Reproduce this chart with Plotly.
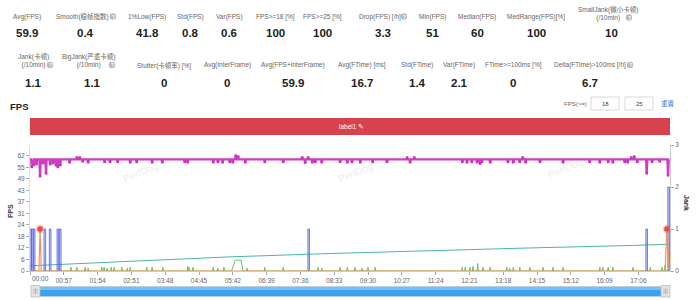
import plotly.graph_objects as go
import numpy as np

# ---------------- data ----------------
x_tick_labels = ["00:00", "00:57", "01:54", "02:51", "03:48", "04:45", "05:42", "06:39",
                 "07:36", "08:33", "09:30", "10:27", "11:24", "12:21", "13:18", "14:15",
                 "15:12", "16:09", "17:06"]
fps_tick_labels = ["0", "6", "12", "18", "24", "31", "37", "43", "49", "55", "62"]
jank_tick_labels = ["0", "1", "2", "3"]

duration_s = 1078
fps_base = 60
# times (s) where FPS leaves its 60 baseline, and the value reached
fps_event_t = [3, 6, 11, 17, 22, 27, 34, 39, 44, 47, 51, 67, 79, 84, 89, 98, 126, 135, 148, 169,
               180, 206, 223, 261, 266, 309, 317, 325, 337, 342, 347, 351, 363, 396, 427, 459,
               464, 469, 476, 481, 492, 523, 535, 543, 557, 578, 602, 636, 641, 648, 729, 737,
               745, 754, 759, 762, 776, 806, 815, 826, 831, 836, 860, 899, 944, 961, 975, 983,
               1003, 1008, 1014, 1019, 1024, 1040, 1049, 1062, 1076]
fps_event_v = [56, 57, 57.5, 51, 58, 52.5, 57.5, 58, 57, 56, 57, 58.5, 61, 61, 59, 58.5, 58.7,
               58.7, 58.7, 58.5, 58.7, 58.5, 58.5, 58.7, 58.5, 58.5, 58.7, 58.5, 58.7, 58.5, 62,
               61.5, 58.5, 58.7, 58.7, 61, 58.3, 61, 58.5, 58.7, 58.5, 58.7, 58.5, 58.7, 58.5,
               58.7, 58.7, 61, 58.5, 61, 58.7, 58.5, 58.7, 58.5, 57.8, 58.7, 58.5, 58.7, 58.5,
               58.7, 61, 58.5, 58.7, 58.5, 58.7, 58.5, 58.7, 58.5, 58.7, 58.5, 61, 61.5, 58.7,
               52.6, 58.7, 59, 51.5]

jank_t = [1, 4, 7, 25, 34, 47, 51, 470, 1040, 1077]
jank_v = [1, 1, 1, 1, 1, 1, 1, 1, 1, 2]

bigjank_t = [0, 15, 17, 19, 1071, 1074, 1078]
bigjank_v = [0, 0, 1, 0, 0, 1, 0]

inter_spike_t = [69, 79, 93, 98, 121, 125, 130, 137, 142, 155, 164, 169, 197, 206, 224, 266, 268,
                 275, 309, 317, 327, 366, 396, 427, 486, 492, 523, 535, 548, 560, 570, 582, 729,
                 734, 742, 747, 755, 764, 776, 804, 809, 815, 826, 843, 865, 882, 899, 961, 966,
                 975, 983, 1017, 1046, 1066, 1071]
inter_spike_v = [2, 2, 2, 1.5, 2, 2, 1.5, 2, 2, 2, 1.5, 2, 2, 2, 2, 2.5, 2, 2, 2, 1.5, 2, 1.5, 2,
                 2, 2, 1.5, 2, 2, 2, 1.5, 2, 2, 2, 2, 2, 2.5, 4, 2, 2, 2, 1.5, 2, 2, 2, 2, 2, 2,
                 2, 2, 2, 2, 2, 2, 2, 3]
inter_block_t = [340, 346, 356, 359]
inter_block_v = [0, 5.8, 5.8, 0]

trend_t = [0, 60, 169, 337, 506, 675, 843, 1012, 1078]
trend_v = [2.8, 3.7, 5.3, 7.6, 9.4, 11.0, 12.4, 13.7, 14.4]

row1_labels = ["Avg(FPS)", "Smooth(稳帧指数)", "1%Low(FPS)", "Std(FPS)", "Var(FPS)", "FPS>=18 [%]",
               "FPS>=25 [%]", "Drop(FPS) [/h]", "Min(FPS)", "Median(FPS)", "MedRange(FPS)[%]",
               "SmallJank(微小卡顿)<br>(/10min)"]
row1_values = ["59.9", "0.4", "41.8", "0.8", "0.6", "100", "100", "3.3", "51", "60", "100", "10"]
row2_labels = ["Jank(卡顿)<br>(/10min)", "BigJank(严重卡顿)<br>(/10min)", "Stutter(卡顿率) [%]",
               "Avg(InterFrame)", "Avg(FPS+InterFrame)", "Avg(FTime) [ms]", "Std(FTime)",
               "Var(FTime)", "FTime>=100ms [%]", "Delta(FTime)>100ms [/h]"]
row2_values = ["1.1", "1.1", "0", "0", "59.9", "16.7", "1.4", "2.1", "0", "6.7"]
fps_thresholds = ["18", "25"]

# ---------------- layout geometry ----------------
W, H = 700, 300
ML, MR, MT, MB = 30, 30, 145, 29
PW, PH = W - ML - MR, H - MT - MB
FONT = "Liberation Sans, Noto Sans CJK SC, sans-serif"


def px(x):
    return (x - ML) / PW


def py(y):
    return (H - MB - y) / PH


def to_sec(s):
    m, sec = s.split(":")
    return int(m) * 60 + int(sec)


x_tick_vals = [to_sec(s) for s in x_tick_labels]
x_max = (W - MR - ML) * x_tick_vals[1] / 33.8
fps_tick_vals = list(np.linspace(0, float(fps_tick_labels[-1]), len(fps_tick_labels)))
fps_top = float(fps_tick_labels[-1]) * 126 / 115.3

# FPS line built from baseline + events
fps_t, fps_v = [0], [fps_base]
for t, v in zip(fps_event_t, fps_event_v):
    fps_t += [t - 1, t, t + 1]
    fps_v += [fps_base, v, fps_base]
fps_t.append(duration_s)
fps_v.append(fps_base)

inter_t, inter_v = [0], [0]
blk_done = False
for t, v in zip(inter_spike_t, inter_spike_v):
    if not blk_done and t > inter_block_t[0]:
        inter_t += inter_block_t
        inter_v += inter_block_v
        blk_done = True
    inter_t += [t - 1, t, t + 1]
    inter_v += [0, v, 0]
inter_t.append(duration_s)
inter_v.append(0)

fig = go.Figure()

fig.add_trace(go.Scatter(x=trend_t, y=trend_v, mode="lines",
                         line=dict(color="#4bb5ab", width=1), yaxis="y", hoverinfo="skip"))
fig.add_trace(go.Scatter(x=inter_t, y=inter_v, mode="lines",
                         line=dict(color="#5cb85c", width=0.9), yaxis="y", hoverinfo="skip"))
fig.add_trace(go.Bar(x=jank_t, y=jank_v, width=2.8, yaxis="y2",
                     marker=dict(color="rgba(110,125,238,0.4)", line=dict(color="#5466e6", width=0.8))))
fig.add_trace(go.Scatter(x=bigjank_t, y=bigjank_v, mode="lines",
                         line=dict(color="#f0955a", width=1.2), yaxis="y2", hoverinfo="skip"))
bj_pts = [(t, v) for t, v in zip(bigjank_t, bigjank_v) if v > 0]
fig.add_trace(go.Scatter(x=[p[0] for p in bj_pts], y=[p[1] for p in bj_pts], mode="markers",
                         marker=dict(color="#ee4b4b", size=5.5, line=dict(color="rgba(238,75,75,0.3)", width=3)),
                         yaxis="y2"))
fig.add_trace(go.Scatter(x=fps_t, y=fps_v, mode="lines",
                         line=dict(color="#d03cc2", width=2.4), yaxis="y", hoverinfo="skip"))
fig.add_trace(go.Scatter(x=fps_event_t, y=fps_event_v, mode="markers",
                         marker=dict(color="#c733b8", size=2.6, symbol="square"), yaxis="y"))

ann = []
shapes = []


def text(x, y, s, size=6.5, color="#666", bold=False, xanchor="center", yanchor="middle", angle=0):
    ann.append(dict(x=px(x), y=py(y), xref="paper", yref="paper", text=("<b>%s</b>" % s) if bold else s,
                    showarrow=False, xanchor=xanchor, yanchor=yanchor, textangle=angle,
                    font=dict(size=size, color=color, family=FONT)))


def qicon(x, y):
    r = 3.2
    shapes.append(dict(type="circle", xref="paper", yref="paper", x0=px(x - r), x1=px(x + r),
                       y0=py(y + r), y1=py(y - r), fillcolor="#b9b9b9", line=dict(width=0)))
    text(x, y + 0.3, "?", size=5, color="white", bold=True)


# row 1 stats
row1_x = [27, 82, 147, 190, 229, 275, 322, 380, 432, 477, 536, 608]
for lab, val, x in zip(row1_labels, row1_values, row1_x):
    if "<br>" in lab:
        text(x, 13, lab)
    else:
        text(x, 16.5, lab)
    text(x if x not in (82, 380, 608) else x + 3, 33, val, size=11.5, color="#222", bold=True)
qicon(113, 16.5)
qicon(404, 16.5)
qicon(629, 17.5)

row2_x = [33, 88, 164, 227, 293, 362, 417, 459, 513, 590]
for lab, val, x in zip(row2_labels, row2_values, row2_x):
    if "<br>" in lab:
        text(x, 60.5, lab)
    else:
        text(x, 65, lab)
    text(x + (4 if x == 88 else 0), 83, val, size=11.5, color="#222", bold=True)
qicon(50, 65)
qicon(112, 65)
qicon(630, 65)

# FPS section header
text(8, 106, "FPS", size=9.5, color="#222", bold=True, xanchor="left")
text(575, 103.5, "FPS(>=)", size=6)
for thr, (x0, x1) in zip(fps_thresholds, [(591, 619), (625, 653)]):
    shapes.append(dict(type="rect", xref="paper", yref="paper", x0=px(x0), x1=px(x1),
                       y0=py(110), y1=py(97), line=dict(color="#cfcfcf", width=0.8), fillcolor="white"))
    text((x0 + x1) / 2, 103.5, thr, size=6, color="#444")
text(668, 103.5, "重置", size=6.5, color="#3d6fe3")

# label band
shapes.append(dict(type="rect", xref="paper", yref="paper", x0=px(30), x1=px(670), y0=py(135), y1=py(118),
                   fillcolor="#d8424e", line=dict(width=0)))
text(351, 126.5, "label1 ✎", size=6.5, color="white")

# axis titles
text(10, 211, "FPS", size=7, color="#333", bold=True, angle=-90)
text(687, 203, "Jank", size=7, color="#333", bold=True, angle=90)

# watermarks
for wx, wy in [(140, 172), (355, 172), (565, 168)]:
    text(wx, wy, "PerfDog", size=10, color="rgba(190,190,190,0.3)", angle=-22)

# first x label, left aligned at the axis start
ann.append(dict(x=0, y=py(278.5), xref="x", yref="paper", text=x_tick_labels[0], showarrow=False,
                xanchor="left", yanchor="middle", font=dict(size=6.5, color="#666", family=FONT)))

# slider
shapes.append(dict(type="rect", xref="paper", yref="paper", x0=px(33), x1=px(668), y0=py(296.5), y1=py(286.5),
                   fillcolor="#3aa2ee", line=dict(color="#d0d0d0", width=0.6)))
shapes.append(dict(type="rect", xref="paper", yref="paper", x0=px(40), x1=px(662), y0=py(290), y1=py(287),
                   fillcolor="#74c0f4", line=dict(width=0)))
for hx in (31, 661):
    shapes.append(dict(type="rect", xref="paper", yref="paper", x0=px(hx), x1=px(hx + 9), y0=py(297),
                       y1=py(285.5), fillcolor="#e4e4e4", line=dict(color="#b8b8b8", width=0.7)))
    for dx in (3, 4.5, 6):
        shapes.append(dict(type="line", xref="paper", yref="paper", x0=px(hx + dx), x1=px(hx + dx),
                           y0=py(294), y1=py(288.5), line=dict(color="#a0a0a0", width=0.6)))

fig.update_layout(
    width=W, height=H, margin=dict(l=ML, r=MR, t=MT, b=MB),
    paper_bgcolor="white", plot_bgcolor="white", showlegend=False, barmode="overlay",
    font=dict(family=FONT, size=6.5, color="#666"),
    annotations=ann, shapes=shapes,
    xaxis=dict(range=[0, x_max], tickvals=x_tick_vals, ticktext=[""] + x_tick_labels[1:],
               showgrid=False, zeroline=False, showline=True, linecolor="#cccccc", linewidth=1,
               ticks="outside", ticklen=3, tickcolor="#aaaaaa", tickfont=dict(size=6.5, color="#666")),
    yaxis=dict(range=[0, fps_top], tickvals=fps_tick_vals, ticktext=fps_tick_labels,
               showgrid=False, zeroline=False, showline=True, linecolor="#dddddd", linewidth=1,
               ticks="outside", ticklen=3, tickcolor="#aaaaaa", tickfont=dict(size=6.5, color="#666")),
    yaxis2=dict(range=[0, 3], tickvals=[0, 1, 2, 3], ticktext=jank_tick_labels, overlaying="y", side="right",
                showgrid=False, zeroline=False, showline=True, linecolor="#cccccc", linewidth=1,
                ticks="outside", ticklen=3, tickcolor="#aaaaaa", tickfont=dict(size=6.5, color="#666")),
)

fig.write_html("out.html")
